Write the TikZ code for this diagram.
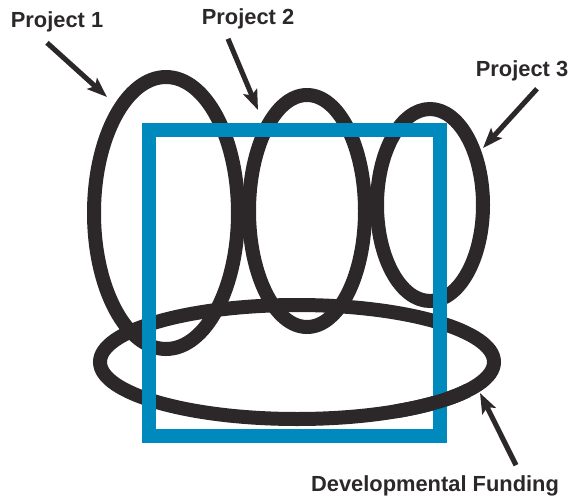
\documentclass[tikz,border=0pt]{standalone}
\usepackage{fontspec}
\setmainfont{Liberation Sans}
\usetikzlibrary{arrows.meta}
\definecolor{ringblack}{RGB}{44,40,41}
\definecolor{fundblue}{RGB}{0,137,188}
\begin{document}
\begin{tikzpicture}[x=0.75pt,y=-0.75pt,
        ring/.style={draw=ringblack,line width=10.5pt},
        frame/.style={draw=fundblue,line width=10.5pt},
        lab/.style={font=\bfseries\fontsize{16.4}{19}\selectfont,text=ringblack,inner sep=1pt},
        pointer/.style={draw=ringblack,line width=3.8pt,-{Stealth[length=15pt,width=11pt,inset=3pt]}}]
        \useasboundingbox (0,0) rectangle (571,496);

        \draw[ring] (166,213) ellipse [x radius=72,y radius=136];
        \draw[ring] (307,211) ellipse [x radius=58,y radius=116];
        \draw[ring] (430,205) ellipse [x radius=53,y radius=96];
        \draw[ring] (297,362) ellipse [x radius=197,y radius=57];

        \draw[frame] (149,130) rectangle (440,436);
        \draw[ring] (467.6,390.5) arc [start angle=30,end angle=60,x radius=197,y radius=57];

        \node[lab] (p1lab) at (57,22) {Project 1};
        \node[lab] (p2lab) at (248,19) {Project 2};
        \node[lab] (p3lab) at (522,71) {Project 3};
        \node[lab] (fundlab) at (435,486) {Developmental Funding};

        \coordinate (p1tip) at (107,97);
        \coordinate (p2tip) at (258,110);
        \coordinate (p3tip) at (483,148);
        \coordinate (fundtip) at (480,393);

        \draw[pointer] ([shift={(-10,9)}]p1lab.south) -- (p1tip);
        \draw[pointer] ([shift={(-20,8)}]p2lab.south) -- (p2tip);
        \draw[pointer] ([shift={(15,6)}]p3lab.south) -- (p3tip);
        \draw[pointer] ([shift={(81,-9)}]fundlab.north) -- (fundtip);
    \end{tikzpicture}
\end{document}
